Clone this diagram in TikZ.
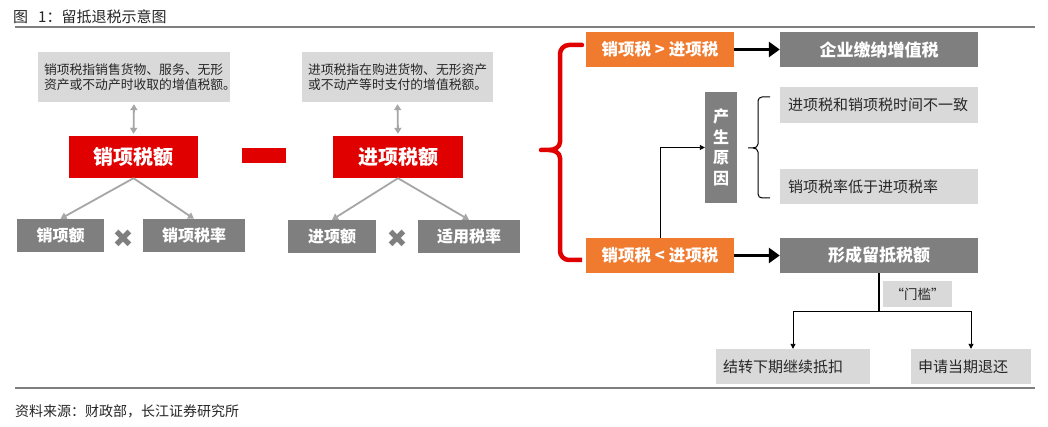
\documentclass[tikz,border=0pt]{standalone}
\usepackage{fontspec}
\setmainfont{Noto Sans CJK SC}
\newfontfamily\symfont{DejaVu Sans}
\usepackage{xcolor}
\usepackage{tikz}
\usetikzlibrary{positioning, arrows.meta}
\definecolor{lzRed}{HTML}{E00000}
\definecolor{lzOrange}{HTML}{F07A2E}
\definecolor{lzGrey}{HTML}{7F7F7F}
\definecolor{lzLight}{HTML}{D9D9D9}
\definecolor{lzArrow}{HTML}{A6A6A6}
\definecolor{lzText}{HTML}{262626}

\tikzset{
  redbox/.style={fill=lzRed, text=white, font=\fontsize{20}{24}\selectfont\bfseries, inner sep=0pt},
  greybox/.style={fill=lzGrey, text=white, font=\fontsize{16}{19}\selectfont\bfseries, inner sep=0pt},
  orangebox/.style={fill=lzOrange, text=white, font=\fontsize{16.5}{19}\selectfont\bfseries, inner sep=0pt,
    minimum width=148pt, minimum height=35pt},
  notebox/.style={fill=lzLight, text=lzText, font=\fontsize{15}{18}\selectfont, align=left,
    inner xsep=7pt, inner ysep=0pt},
  greyarrow/.style={draw=lzArrow, line width=1.8pt, -{Triangle[length=6pt,width=7pt]}},
  fatarrow/.style={line width=3.5pt, -{Triangle[length=11pt,width=15pt]}},
  thinarrow/.style={line width=0.9pt, -{Triangle[length=5pt,width=5pt]}},
}

\begin{document}
\begin{tikzpicture}[x=1pt, y=-1pt]
  \useasboundingbox[fill=white] (0,0) rectangle (1048,427);

  % title and rules
  \node[anchor=west, inner sep=0pt, text=lzText, font=\fontsize{15}{18}\selectfont] (title) at (13,17)
    {图\hspace{10pt}1：留抵退税示意图};
  \draw[lzGrey, line width=1.5pt] (15,27) -- (1035,27);
  \draw[lzGrey, line width=1.5pt] (15,388) -- (1035,388);
  \node[anchor=west, inner sep=0pt, text=lzText, font=\fontsize{14}{17}\selectfont] (source) at (15,411)
    {资料来源：财政部，长江证券研究所};

  % left part: output tax minus input tax
  \node[notebox, font=\fontsize{12.8}{14.5}\selectfont, text width=180pt, minimum width=192pt, minimum height=50pt,
    inner xsep=6pt] (descA) at (134,77) {销项税指销售货物、服务、无形\\资产或不动产时收取的增值税额。};
  \node[notebox, font=\fontsize{12.8}{14.5}\selectfont, text width=179pt, minimum width=191pt, minimum height=50pt,
    inner xsep=6pt] (descB) at (397.5,77) {进项税指在购进货物、无形资产\\或不动产等时支付的增值税额。};

  \node[redbox, minimum width=129pt, minimum height=42pt] (sales) at (133.5,157) {销项税额};
  \node[redbox, minimum width=130pt, minimum height=42pt] (input) at (398,157) {进项税额};
  \node[fill=lzRed, inner sep=0pt, minimum width=44pt, minimum height=15pt] (minus) at (264,155.5) {};

  \node[greybox, minimum width=87pt, minimum height=33pt] (sAmt) at (60.5,235.5) {销项额};
  \node[greybox, minimum width=102pt, minimum height=33pt] (sRate) at (194,235.5) {销项税率};
  \node[greybox, minimum width=88pt, minimum height=33pt] (iAmt) at (332,236.5) {进项额};
  \node[greybox, minimum width=102pt, minimum height=33pt] (iRate) at (469,236.5) {适用税率};
  \node[text=lzGrey, inner sep=0pt, font=\symfont\fontsize{25}{25}\selectfont] (timesA) at (123,239) {✖};
  \node[text=lzGrey, inner sep=0pt, font=\symfont\fontsize{25}{25}\selectfont] (timesB) at (397,239) {✖};

  \draw[greyarrow, {Triangle[length=6pt,width=7pt]}-{Triangle[length=6pt,width=7pt]}, shorten <=2pt, shorten >=2pt]
    (descA.south) -- (sales.north);
  \draw[greyarrow, {Triangle[length=6pt,width=7pt]}-{Triangle[length=6pt,width=7pt]}, shorten <=2pt, shorten >=2pt]
    (descB.south) -- (input.north);
  \draw[greyarrow] (sales.south) -- (sAmt.north);
  \draw[greyarrow] (sales.south) -- (sRate.north);
  \draw[greyarrow] (input.south) -- (iAmt.north);
  \draw[greyarrow] (input.south) -- (iRate.north);

  % right part: two cases
  \node[orangebox] (gt) at (660,49.5) {销项税 > 进项税};
  \node[orangebox] (lt) at (660,255.5) {销项税 < 进项税};
  \node[greybox, font=\fontsize{17}{20}\selectfont\bfseries, minimum width=198pt, minimum height=35pt]
    (pay) at (879,49.5) {企业缴纳增值税};
  \node[greybox, font=\fontsize{17}{20}\selectfont\bfseries, minimum width=198pt, minimum height=35pt]
    (form) at (879,255.5) {形成留抵税额};
  \node[greybox, align=center, font=\fontsize{16}{20.7}\selectfont\bfseries, minimum width=32pt, minimum height=111pt]
    (cause) at (721,147.5) {产\\生\\原\\因};
  \node[notebox, text width=182pt, inner xsep=8pt, minimum height=36pt] (r1) at (879,105) {进项税和销项税时间不一致};
  \node[notebox, text width=182pt, inner xsep=8pt, minimum height=35pt] (r2) at (879,186.5) {销项税率低于进项税率};
  \node[notebox, align=center, inner xsep=0pt, font=\fontsize{13.5}{16}\selectfont, minimum width=69pt, minimum height=26pt]
    (gate) at (917.5,294) {“门槛”};
  \node[notebox, text width=140pt, minimum height=35pt] (carry) at (793,366.5) {结转下期继续抵扣};
  \node[notebox, text width=106pt, minimum height=35pt] (refund) at (971,366.5) {申请当期退还};
  \coordinate (split) at (879,311);

  % braces
  \draw[lzRed, line width=4.5pt, line cap=round] (582,45) -- (569,45) to[out=180,in=90] (560,54) -- (560,142)
    to[out=-90,in=0] (549,150) -- (541,150);
  \draw[lzRed, line width=4.5pt] (549,150) to[out=0,in=90] (560,158) -- (560,251) to[out=-90,in=180] (569,260) -- (582,260);
  \draw[black, line width=1pt] (770,97) -- (762,97) to[out=180,in=90] (758,101) -- (758,144)
    to[out=-90,in=0] (753,148) -- (748,148);
  \draw[black, line width=1pt] (753,148) to[out=0,in=90] (758,152) -- (758,194) to[out=-90,in=180] (762,198) -- (770,198);

  % connectors
  \draw[fatarrow] (gt.east) -- (pay.west);
  \draw[fatarrow] (lt.east) -- (form.west);
  \draw[thinarrow] (lt.north) |- (cause.west);
  \draw[line width=1.2pt] (form.south) -- (split);
  \draw[thinarrow] (split) -| (carry.north);
  \draw[thinarrow] (split) -| (refund.north);
\end{tikzpicture}
\end{document}
